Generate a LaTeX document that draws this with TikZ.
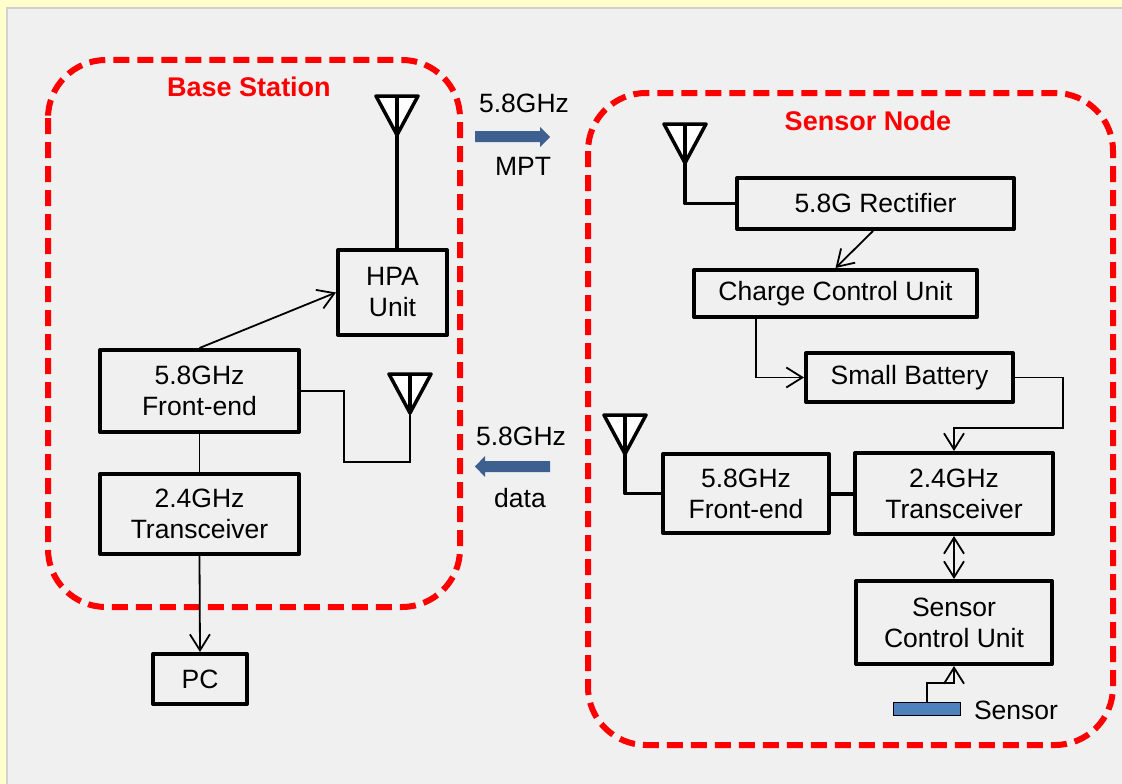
\documentclass[tikz,border=0pt]{standalone}
\usepackage{fontspec}
\setmainfont{Liberation Sans}
\usetikzlibrary{arrows.meta}
\definecolor{pagebg}{HTML}{FFFFCC}
\definecolor{panel}{HTML}{F0F0F0}
\definecolor{panelline}{HTML}{D0D0D0}
\definecolor{regionred}{HTML}{FF0000}
\definecolor{linkblue}{HTML}{3D6091}
\definecolor{sensorblue}{HTML}{4F81BD}

\begin{document}
\begin{tikzpicture}[x=1pt,y=-1pt,
  txt/.style={font=\fontsize{26.5}{31}\selectfont, align=center, inner sep=0pt},
  unit/.style={txt, draw, line width=4pt, line join=round},
  region/.style={draw=regionred, line width=6pt, dash pattern=on 16pt off 8pt, rounded corners=58pt},
  title/.style={font=\fontsize{27}{31}\selectfont\bfseries, text=regionred, inner sep=0pt},
  link/.style={line width=1.8pt, -{Straight Barb[length=16pt,width=20pt,line width=1.8pt]}},
  twoway/.style={line width=1.8pt, {Straight Barb[length=16pt,width=20pt,line width=1.8pt]}-{Straight Barb[length=16pt,width=20pt,line width=1.8pt]}},
  wire/.style={line width=1.8pt},
  feed/.style={line width=3.5pt, line join=round},
  antenna/.pic={
    \filldraw[fill=white, draw=black, line width=3.5pt, line join=round]
      (-21,-39) -- (21,-39) -- (0,0) -- cycle;
    \draw[line width=3.5pt] (0,-39) -- (0,0);
    \coordinate (-apex) at (0,0);
  }]

\useasboundingbox (0,0) rectangle (1122,784);

% backdrop
\fill[pagebg] (0,0) rectangle (1122,784);
\fill[panel] (7,8) rectangle (1122,784);
\draw[panelline, line width=1.5pt] (7,784) -- (7,8) -- (1122,8);

% region outlines
\draw[region] (48,60) rectangle (460,607);
\draw[region] (588,93) rectangle (1113,745);
\node[title] (bstitle) at (249,87) {Base Station};
\node[title] (sntitle) at (868,121) {Sensor Node};

% base station blocks
\node[unit, minimum width=109pt, minimum height=85pt] (hpa) at (392.5,292.5) {HPA\\Unit};
\node[unit, minimum width=199pt, minimum height=82pt] (febs) at (199.5,391) {5.8GHz\\Front-end};
\node[unit, minimum width=199pt, minimum height=80pt] (trbs) at (199.5,514) {2.4GHz\\Transceiver};
\node[unit, minimum width=94pt, minimum height=50pt] (pc) at (200,679) {PC};

% sensor node blocks
\node[unit, minimum width=277pt, minimum height=51pt] (rect) at (875.5,203.5) {5.8G Rectifier};
\node[unit, minimum width=283pt, minimum height=47pt] (ccu) at (835.5,293.5) {Charge Control Unit};
\node[unit, minimum width=207pt, minimum height=49pt] (batt) at (909.5,377.5) {Small Battery};
\node[unit, minimum width=166pt, minimum height=79pt] (fesn) at (746,493.5) {5.8GHz\\Front-end};
\node[unit, minimum width=198pt, minimum height=81pt] (trsn) at (954,493.5) {2.4GHz\\Transceiver};
\node[unit, minimum width=196pt, minimum height=83pt] (scu) at (954,622.5) {Sensor\\Control Unit};
\node[draw=black, line width=1pt, fill=sensorblue, minimum width=67pt, minimum height=13pt, inner sep=0pt] (sensor) at (927,708.5) {};
\node[txt] (sensorlbl) at (1016,710) {Sensor};

% antennas
\pic (antbs) at (397,135) {antenna};
\pic (antbl) at (410,413) {antenna};
\pic (antsn) at (685,163) {antenna};
\pic (antsl) at (625,454) {antenna};

% base station wiring
\draw[feed] (antbs-apex) -- (antbs-apex |- hpa.north);
\coordinate (bsj) at (344,462);
\draw[wire] (febs.east) -| (bsj) -| (antbl-apex);
\draw[link] (febs.north) -- (hpa.west);
\draw[wire] (febs.south) -- (trbs.north);
\draw[link] (trbs.south) -- (pc.north);

% sensor node wiring
\draw[feed] (antsn-apex) |- (rect.west);
\draw[feed] (antsl-apex) |- (fesn.west);
\draw[line width=4pt] (fesn.east) -- (trsn.west);
\coordinate (rs) at (873,0);
\draw[link] (rect.south -| rs) -- (ccu.north);
\coordinate (cb) at (756,0);
\draw[link] (ccu.south -| cb) |- (batt.west);
\coordinate (bt) at (1063,428);
\draw[link] (batt.east) -| (bt) -| (trsn.north);
\draw[twoway] (trsn.south) -- (scu.north);
\coordinate (sj) at (954,683);
\draw[link] (sensor.north) |- (sj) -- (scu.south);

% radio links between the two sides
\fill[linkblue] (475,131) -- (540,131) -- (540,127) -- (550,137) -- (540,147) -- (540,142) -- (475,142) -- cycle;
\node[txt] (mptf) at (524,103) {5.8GHz};
\node[txt] (mpt) at (523,166) {MPT};
\fill[linkblue] (550,461) -- (485,461) -- (485,456) -- (475,466.5) -- (485,477) -- (485,472) -- (550,472) -- cycle;
\node[txt] (dataf) at (521,436) {5.8GHz};
\node[txt] (data) at (520,498) {data};
\end{tikzpicture}
\end{document}
